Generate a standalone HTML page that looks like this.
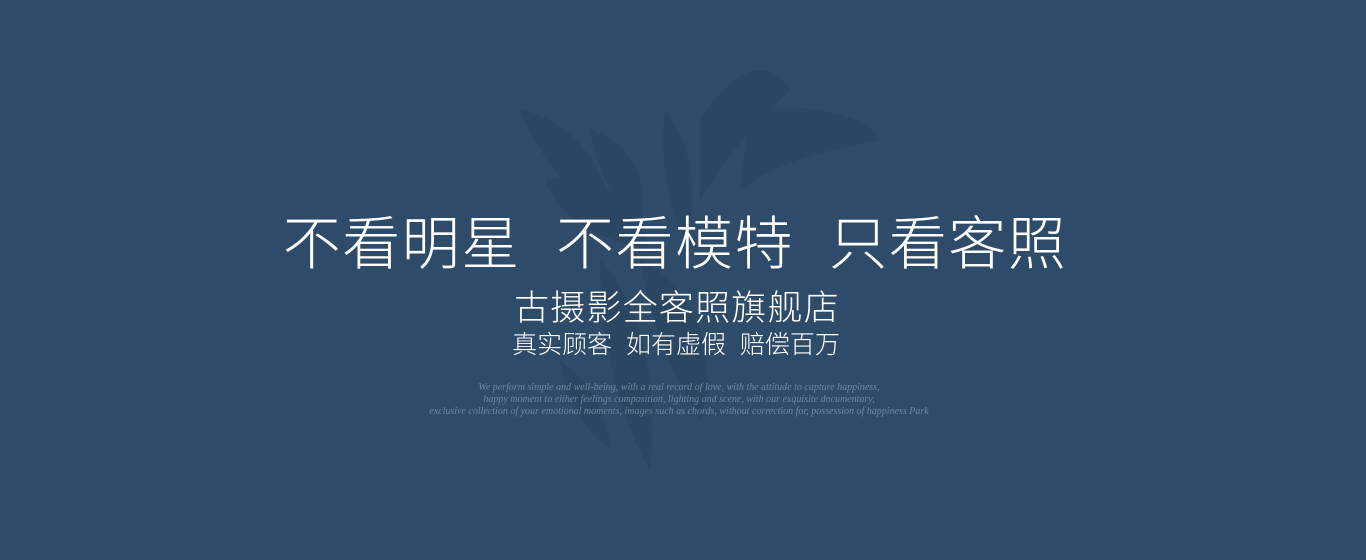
<!DOCTYPE html>
<html><head><meta charset="utf-8">
<style>
html,body{margin:0;padding:0;}
body{width:1366px;height:560px;background:#2e4c69;position:relative;overflow:hidden;font-family:"Liberation Sans","Noto Sans CJK SC",sans-serif;color:#fff;}
.t{position:absolute;left:-5px;width:1366px;text-align:center;white-space:nowrap;}
#l1{top:197px;font-size:58px;font-weight:300;letter-spacing:1.5px;left:-8px;}
#l2{top:280px;font-size:35px;font-weight:300;letter-spacing:1.2px;left:-6px;}
#l3{top:325px;font-size:25px;font-weight:300;letter-spacing:0px;left:-7px;}
#en{top:382px;font-family:"Liberation Serif",serif;font-style:italic;font-size:10px;line-height:12px;color:#6f87a0;left:-4px;}
</style></head>
<body>
<svg width="1366" height="560" style="position:absolute;left:0;top:0">
<g fill="#26405a" opacity="0.45">
<path d="M520 110 C580 120 610 180 620 230 C580 210 540 160 520 110Z"/>
<path d="M590 130 C630 140 650 180 640 220 C610 200 595 165 590 130Z"/>
<path d="M665 110 C690 140 700 190 685 240 C665 200 660 150 665 110Z"/>
<path d="M700 120 C740 60 770 60 790 90 C760 120 730 150 700 200Z"/>
<path d="M750 110 C820 100 870 120 880 140 C830 150 780 160 740 190Z"/>
<path d="M545 180 C600 170 640 200 650 250 C600 240 560 220 545 180Z"/>
<path d="M600 260 C640 300 660 380 650 470 C620 420 600 340 600 260Z"/>
<path d="M640 260 C700 290 720 360 700 420 C670 370 650 320 640 260Z"/>
<path d="M560 360 C590 380 610 420 610 450 C585 430 565 400 560 360Z"/>
</g>
</svg>
<div id="l1" class="t">不看明星&nbsp;&nbsp;不看模特&nbsp;&nbsp;只看客照</div>
<div id="l2" class="t">古摄影全客照旗舰店</div>
<div id="l3" class="t">真实顾客&nbsp;&nbsp;如有虚假&nbsp;&nbsp;赔偿百万</div>
<div id="en" class="t">We perform simple and well-being, with a real record of love, with the attitude to capture happiness,<br>happy moment to either feelings composition, lighting and scene, with our exquisite documentary,<br>exclusive collection of your emotional moments, images such as chords, without correction for, possession of happiness Park</div>
</body></html>
